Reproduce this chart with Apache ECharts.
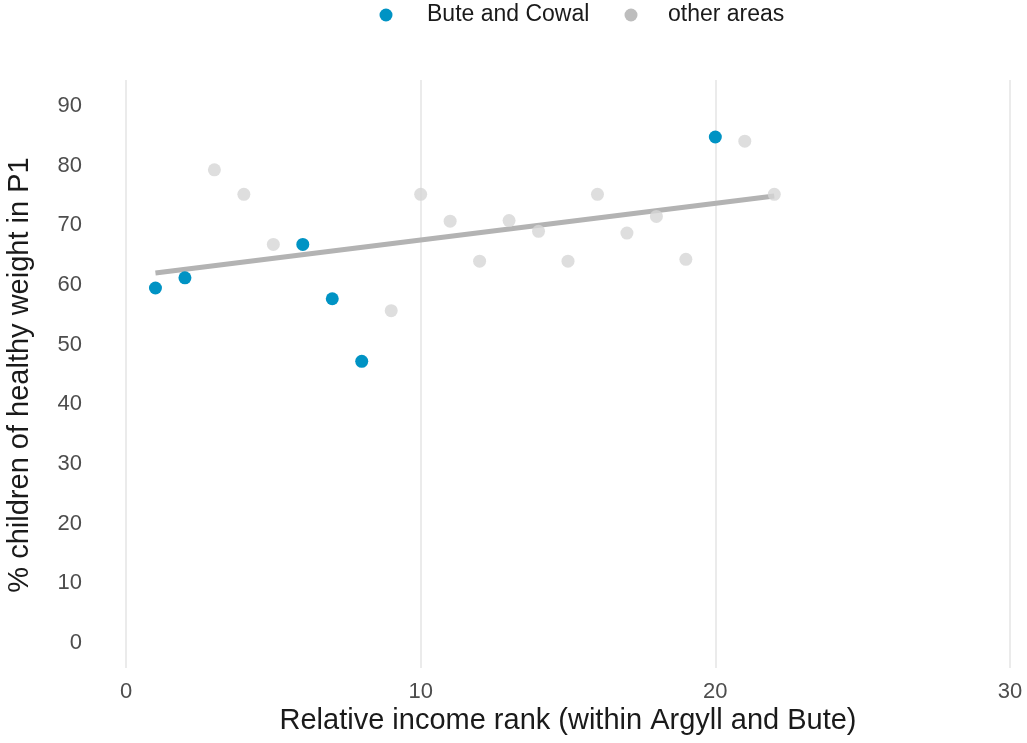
<!DOCTYPE html>
<html>
<head>
<meta charset="utf-8">
<script src="https://cdn.jsdelivr.net/npm/echarts@6/dist/echarts.min.js"></script>
<style>html,body{margin:0;padding:0;background:#fff}#c{width:1027px;height:743px}</style>
</head>
<body>
<div id="c"></div>
<script>
const buteRank = [1, 2, 6, 7, 8, 20];
const buteValue = [59.5, 61.2, 66.8, 57.7, 47.2, 84.8];
const otherRank = [3, 4, 5, 9, 10, 11, 12, 13, 14, 15, 16, 17, 18, 19, 21, 22];
const otherValue = [79.3, 75.2, 66.8, 55.7, 75.2, 70.7, 64.0, 70.8, 69.0, 64.0, 75.2, 68.7, 71.5, 64.3, 84.1, 75.2];
const trendRank = [1, 22];
const trendValue = [62.0, 74.9];
const xTicks = [0, 10, 20, 30];
const yTicks = [0, 10, 20, 30, 40, 50, 60, 70, 80, 90];
const legendLabels = ['Bute and Cowal', 'other areas'];

const chart = echarts.init(document.getElementById('c'), null, {renderer: 'canvas'});
const font = 'Liberation Sans, Arial, sans-serif';
const pair = (xs, ys) => xs.map((x, i) => [x, ys[i]]);

chart.setOption({
  animation: false,
  backgroundColor: '#ffffff',
  grid: [
    {left: 126, right: 17, top: 106, bottom: 100},
    {left: 126, right: 17, top: 80, bottom: 75}
  ],
  xAxis: [
    {gridIndex: 0, type: 'value', min: xTicks[0], max: xTicks[xTicks.length - 1], interval: 10,
     axisLine: {show: false}, axisTick: {show: false}, axisLabel: {show: false}, splitLine: {show: false}},
    {gridIndex: 1, type: 'value', min: xTicks[0], max: xTicks[xTicks.length - 1], interval: 10,
     axisLine: {show: false}, axisTick: {show: false},
     axisLabel: {show: true, color: '#4d4d4d', fontSize: 22, fontFamily: font, margin: 13},
     splitLine: {show: true, lineStyle: {color: '#ebebeb', width: 2}}}
  ],
  yAxis: [
    {gridIndex: 0, type: 'value', min: yTicks[0], max: yTicks[yTicks.length - 1], interval: 10,
     axisLine: {show: false}, axisTick: {show: false},
     axisLabel: {show: true, color: '#4d4d4d', fontSize: 22, fontFamily: font, margin: 44},
     splitLine: {show: false}},
    {gridIndex: 1, type: 'value', min: 0, max: 1, show: false, splitLine: {show: false}}
  ],
  series: [
    {type: 'line', xAxisIndex: 0, yAxisIndex: 0, data: pair(trendRank, trendValue),
     symbol: 'none', lineStyle: {color: '#b3b3b3', width: 5}, z: 2, silent: true},
    {type: 'scatter', name: legendLabels[1], xAxisIndex: 0, yAxisIndex: 0, data: pair(otherRank, otherValue),
     symbolSize: 13, itemStyle: {color: '#d6d6d6', opacity: 0.8}, z: 3},
    {type: 'scatter', name: legendLabels[0], xAxisIndex: 0, yAxisIndex: 0, data: pair(buteRank, buteValue),
     symbolSize: 13, itemStyle: {color: '#0093c4', opacity: 1}, z: 4}
  ],
  graphic: [
    {type: 'circle', shape: {cx: 386, cy: 15, r: 6.5}, style: {fill: '#0093c4'}},
    {type: 'text', x: 427, y: 15, style: {text: legendLabels[0], font: '23px ' + font, fill: '#1a1a1a', textVerticalAlign: 'middle', verticalAlign: 'middle'}},
    {type: 'circle', shape: {cx: 631, cy: 15, r: 6.5}, style: {fill: '#bdbdbd'}},
    {type: 'text', x: 668, y: 15, style: {text: legendLabels[1], font: '23px ' + font, fill: '#1a1a1a', textVerticalAlign: 'middle', verticalAlign: 'middle'}},
    {type: 'text', x: 568, y: 721, style: {text: 'Relative income rank (within Argyll and Bute)', font: '29px ' + font, fill: '#1a1a1a', align: 'center', verticalAlign: 'middle', textAlign: 'center', textVerticalAlign: 'middle'}},
    {type: 'text', x: 20, y: 375, rotation: Math.PI / 2, style: {text: '% children of healthy weight in P1', font: '29px ' + font, fill: '#1a1a1a', align: 'center', verticalAlign: 'middle', textAlign: 'center', textVerticalAlign: 'middle'}}
  ]
});
</script>
</body>
</html>
